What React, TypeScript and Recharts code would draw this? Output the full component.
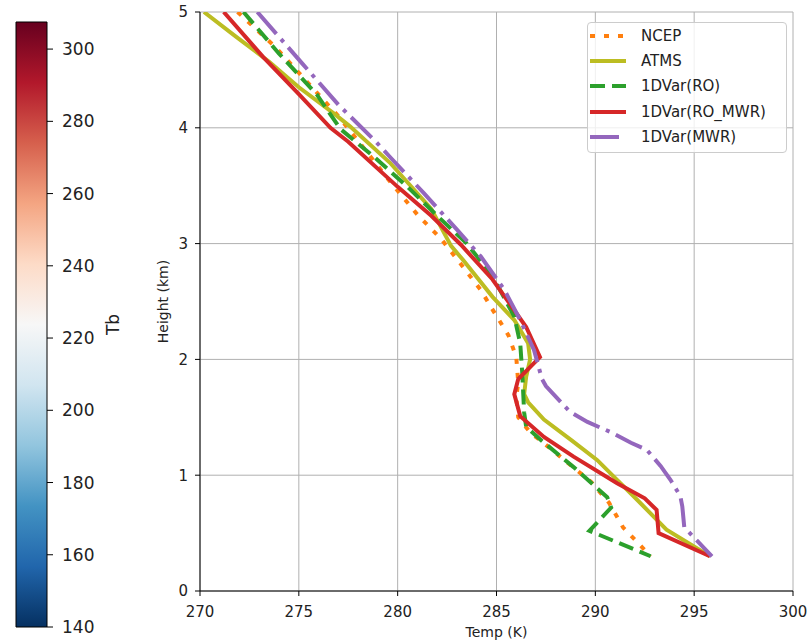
import {
    LineChart,
    Line,
    XAxis,
    YAxis,
    CartesianGrid,
    Legend,
    Label,
    ComposedChart,
    ReferenceArea,
} from 'recharts';

const FONT = '"DejaVu Sans", sans-serif';

// axes
const tempTicks = [270, 275, 280, 285, 290, 295, 300];
const heightTicks = [0, 1, 2, 3, 4, 5];
const tbTicks = [140, 160, 180, 200, 220, 240, 260, 280, 300];
const tbDomain = [140, 307.5];

// RdBu_r, low -> high
const rdbuColors = [
    '#053061', '#2166ac', '#4393c3', '#92c5de', '#d1e5f0', '#f7f7f7',
    '#fddbc7', '#f4a582', '#d6604d', '#b2182b', '#67001f',
];

// profiles (top -> surface)
const ncepTemp = [271.9, 273.8, 275.4, 277.0, 278.4, 279.5, 281.0, 282.2, 283.3, 284.2, 284.8, 285.6, 286.0, 286.1, 286.0, 286.1, 286.7, 287.8, 289.8, 290.7, 291.4, 292.8];
const ncepHeight = [5.0, 4.7, 4.4, 4.1, 3.8, 3.56, 3.25, 3.04, 2.8, 2.6, 2.43, 2.21, 2.02, 1.8, 1.67, 1.5, 1.37, 1.22, 0.94, 0.76, 0.55, 0.3];

const atmsTemp = [270.2, 271.8, 273.5, 275.0, 276.8, 277.6, 279.6, 281.7, 282.7, 283.3, 284.8, 285.9, 286.6, 286.7, 286.5, 286.4, 286.6, 287.4, 288.8, 290.1, 291.1, 292.1, 293.6, 295.8];
const atmsHeight = [5.0, 4.79, 4.57, 4.35, 4.12, 4.01, 3.7, 3.3, 2.98, 2.86, 2.54, 2.34, 2.14, 2.0, 1.85, 1.7, 1.63, 1.48, 1.3, 1.13, 0.96, 0.79, 0.53, 0.3];

const roTemp = [272.2, 274.0, 275.9, 277.1, 278.8, 280.5, 282.0, 283.5, 284.8, 285.9, 286.2, 286.3, 286.4, 286.5, 287.2, 288.9, 290.6, 290.8, 289.7, 292.8];
const roHeight = [5.0, 4.64, 4.29, 3.99, 3.75, 3.49, 3.24, 3.0, 2.72, 2.37, 2.14, 1.89, 1.54, 1.42, 1.31, 1.07, 0.81, 0.72, 0.52, 0.3];

const roMwrTemp = [271.2, 273.2, 275.0, 276.6, 277.5, 280.0, 281.7, 283.2, 284.8, 286.5, 287.2, 286.1, 285.9, 286.2, 287.4, 288.9, 291.1, 292.5, 293.1, 293.2, 295.8];
const roMwrHeight = [5.0, 4.61, 4.29, 4.0, 3.88, 3.49, 3.24, 2.99, 2.69, 2.28, 2.02, 1.83, 1.7, 1.51, 1.33, 1.16, 0.93, 0.8, 0.7, 0.5, 0.3];

const mwrTemp = [272.9, 275.2, 277.0, 278.9, 279.6, 281.3, 283.0, 284.2, 285.4, 286.2, 286.9, 287.3, 287.5, 288.7, 289.6, 290.8, 291.8, 292.6, 293.3, 293.8, 294.3, 294.4, 294.5, 295.9];
const mwrHeight = [5.0, 4.55, 4.2, 3.88, 3.75, 3.44, 3.12, 2.89, 2.6, 2.34, 2.08, 1.83, 1.77, 1.55, 1.46, 1.37, 1.28, 1.22, 1.08, 0.96, 0.82, 0.73, 0.55, 0.3];

const zip = (t: number[], h: number[]) => t.map((v, i) => ({ t: v, h: h[i] }));

const series = [
    { name: 'NCEP', color: '#ff7f0e', dash: '5 9', data: zip(ncepTemp, ncepHeight) },
    { name: 'ATMS', color: '#bcbd22', dash: undefined, data: zip(atmsTemp, atmsHeight) },
    { name: '1DVar(RO)', color: '#2ca02c', dash: '15 7', data: zip(roTemp, roHeight) },
    { name: '1DVar(RO_MWR)', color: '#d62728', dash: undefined, data: zip(roMwrTemp, roMwrHeight) },
    { name: '1DVar(MWR)', color: '#9467bd', dash: '29 7 4 7', data: zip(mwrTemp, mwrHeight) },
];

const XTitle = ({ viewBox }: any) => {
    const vb = viewBox ?? { x: 60, y: 591, width: 593, height: 52 };
    return (
        <text x={vb.x + vb.width / 2} y={vb.y + 46} textAnchor="middle" fontSize={14} fontFamily={FONT} fill="#222">
            Temp (K)
        </text>
    );
};

const YTitle = ({ viewBox }: any) => {
    const vb = viewBox ?? { x: 0, y: 12, width: 60, height: 579 };
    const x = vb.x + 28;
    const y = vb.y + vb.height / 2;
    return (
        <text x={x} y={y} transform={`rotate(-90, ${x}, ${y})`} textAnchor="middle" fontSize={14} fontFamily={FONT} fill="#222">
            Height (km)
        </text>
    );
};

const TbTitle = ({ viewBox }: any) => {
    const vb = viewBox ?? { x: 47, y: 22, width: 93, height: 605 };
    const x = vb.x + 72;
    const y = vb.y + vb.height / 2;
    return (
        <text x={x} y={y} transform={`rotate(-90, ${x}, ${y})`} textAnchor="middle" fontSize={17} fontFamily={FONT} fill="#222">
            Tb
        </text>
    );
};

const LegendBox = () => (
    <div
        style={{
            boxSizing: 'border-box',
            width: 200,
            background: 'rgba(255,255,255,0.8)',
            border: '1px solid #cccccc',
            borderRadius: 4,
            paddingBottom: 3,
            fontFamily: FONT,
            fontSize: 15,
            color: '#222',
        }}
    >
        {series.map((s) => (
            <div key={s.name} style={{ display: 'flex', alignItems: 'center', height: 25.3 }}>
                <svg width={36} height={10} style={{ marginLeft: 2, marginRight: 15 }}>
                    <line x1={0} y1={5} x2={36} y2={5} stroke={s.color} strokeWidth={4} strokeDasharray={s.dash} />
                </svg>
                <span style={{ lineHeight: '16px' }}>{s.name}</span>
            </div>
        ))}
    </div>
);

function Colorbar() {
    return (
        <ComposedChart
            width={140}
            height={643}
            data={[{ x: 0 }, { x: 1 }]}
            margin={{ top: 22, right: 0, bottom: 16, left: 16 }}
        >
            <defs>
                <linearGradient id="rdbu" x1="0" y1="1" x2="0" y2="0">
                    {rdbuColors.map((c, i) => (
                        <stop key={i} offset={i / (rdbuColors.length - 1)} stopColor={c} />
                    ))}
                </linearGradient>
            </defs>
            <XAxis dataKey="x" type="number" domain={[0, 1]} hide />
            <YAxis
                type="number"
                orientation="right"
                domain={tbDomain}
                ticks={tbTicks}
                width={93}
                axisLine={false}
                tickSize={6}
                tickMargin={9}
                tickLine={{ stroke: '#000' }}
                tick={{ fill: '#222', fontSize: 17, fontFamily: FONT }}
                allowDataOverflow
            >
                <Label content={TbTitle} />
            </YAxis>
            <ReferenceArea y1={tbDomain[0]} y2={tbDomain[1]} fill="url(#rdbu)" fillOpacity={1} stroke="#000" strokeWidth={1} ifOverflow="visible" />
        </ComposedChart>
    );
}

function ProfileChart() {
    return (
        <LineChart width={669} height={643} margin={{ top: 12, right: 16, bottom: 0, left: 0 }}>
            <CartesianGrid stroke="#b0b0b0" strokeWidth={1} />
            <XAxis
                dataKey="t"
                type="number"
                domain={[270, 300]}
                ticks={tempTicks}
                allowDataOverflow
                height={52}
                stroke="#000"
                tickSize={5}
                tickMargin={10}
                tick={{ fill: '#222', fontSize: 15, fontFamily: FONT }}
            >
                <Label content={XTitle} />
            </XAxis>
            <XAxis xAxisId="top" orientation="top" type="number" domain={[270, 300]} height={0} tick={false} tickLine={false} stroke="#000" />
            <YAxis
                type="number"
                domain={[0, 5]}
                ticks={heightTicks}
                allowDataOverflow
                width={60}
                stroke="#000"
                tickSize={5}
                tickMargin={7}
                tick={{ fill: '#222', fontSize: 15, fontFamily: FONT }}
            >
                <Label content={YTitle} />
            </YAxis>
            <YAxis yAxisId="right" orientation="right" type="number" domain={[0, 5]} width={0} tick={false} tickLine={false} stroke="#000" />
            {series.map((s) => (
                <Line
                    key={s.name}
                    name={s.name}
                    data={s.data}
                    dataKey="h"
                    type="linear"
                    stroke={s.color}
                    strokeWidth={4}
                    strokeDasharray={s.dash}
                    dot={false}
                    activeDot={false}
                    isAnimationActive={false}
                />
            ))}
            <Legend
                layout="vertical"
                align="center"
                verticalAlign="middle"
                content={LegendBox}
                wrapperStyle={{ left: 447, top: 22, width: 200 }}
            />
        </LineChart>
    );
}

export default function App() {
    return (
        <div style={{ position: 'absolute', left: 0, top: 0, width: 809, height: 643, background: '#fff' }}>
            <div style={{ position: 'absolute', left: 0, top: 0 }}>
                <Colorbar />
            </div>
            <div style={{ position: 'absolute', left: 140, top: 0 }}>
                <ProfileChart />
            </div>
        </div>
    );
}
